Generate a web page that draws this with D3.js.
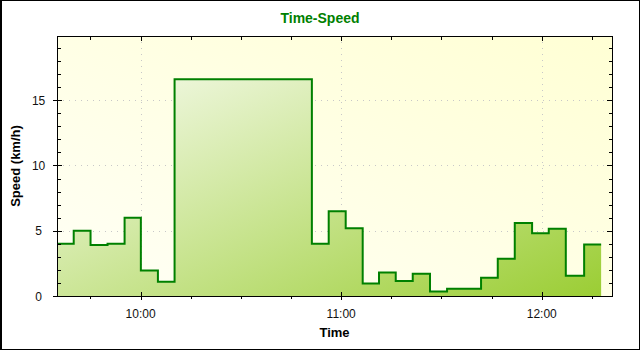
<!DOCTYPE html>
<html>
<head>
<meta charset="utf-8">
<script src="https://cdn.jsdelivr.net/npm/d3@7"></script>
<style>
  html, body { margin: 0; padding: 0; background: #fff; }
  svg { display: block; font-family: "Liberation Sans", Arial, sans-serif; }
</style>
</head>
<body>
<div id="chart"></div>
<script>
// readings: time of each sample and speed (km/h), last point closes the final step
const times = [
  '09:35:00', '09:40:00', '09:45:02', '09:50:07', '09:55:13', '10:00:05', '10:05:11', '10:10:10',
  '10:51:14', '10:56:16', '11:01:21', '11:06:26', '11:11:19', '11:16:19', '11:21:24', '11:26:34',
  '11:31:40', '11:41:50', '11:46:50', '11:51:55', '11:57:06', '12:02:05', '12:07:11', '12:12:40',
  '12:17:45'
];
const speeds = [
  4.0, 5.0, 3.9, 4.0, 6.0, 1.95, 1.1, 16.6,
  4.0, 6.5, 5.2, 0.95, 1.8, 1.15, 1.7, 0.35,
  0.55, 1.4, 2.85, 5.6, 4.8, 5.15, 1.55, 3.95,
  3.95
];
const xDomain = ['09:35:00', '12:21:00'];
const xTicks = ['10:00', '11:00', '12:00'];
const yTicks = [0, 5, 10, 15];

const parse = d3.timeParse('%H:%M:%S');
const data = times.map((t, i) => ({ t: parse(t), v: speeds[i] }));

const W = 640, H = 350;
const m = { top: 36, right: 28, bottom: 54, left: 57 };
const iw = W - m.left - m.right, ih = H - m.top - m.bottom;

const svg = d3.select('#chart').append('svg').attr('width', W).attr('height', H);

const x = d3.scaleTime().domain(xDomain.map(parse)).range([m.left, m.left + iw]);
const y = d3.scaleLinear().domain([0, d3.max(speeds) * 1.2]).range([m.top + ih, m.top]);

const defs = svg.append('defs');
const bg = defs.append('linearGradient').attr('id', 'bg').attr('x1', '0').attr('y1', '1').attr('x2', '1').attr('y2', '0');
bg.append('stop').attr('offset', '0%').attr('stop-color', '#fffff6');
bg.append('stop').attr('offset', '100%').attr('stop-color', '#ffffd4');
const fillGrad = defs.append('linearGradient').attr('id', 'fillGrad').attr('x1', '0').attr('y1', '0').attr('x2', '1').attr('y2', '1');
fillGrad.append('stop').attr('offset', '0%').attr('stop-color', '#ffffff');
fillGrad.append('stop').attr('offset', '100%').attr('stop-color', '#9acd32');

const area = d3.area().x(d => x(d.t)).y0(y(0)).y1(d => y(d.v)).curve(d3.curveStepAfter);
const line = d3.line().x(d => x(d.t)).y(d => y(d.v)).curve(d3.curveStepAfter);
defs.append('clipPath').attr('id', 'areaClip').append('path').datum(data).attr('d', area);

// outer frame
svg.append('rect').attr('x', 0.5).attr('y', 0.5).attr('width', W - 1).attr('height', H - 1)
  .attr('fill', '#fff').attr('stroke', '#000');
svg.append('line').attr('x1', 1.5).attr('x2', 1.5).attr('y1', 0).attr('y2', H).attr('stroke', '#000');

// plot background
svg.append('rect').attr('x', m.left).attr('y', m.top).attr('width', iw).attr('height', ih).attr('fill', 'url(#bg)');

// grid
const hourTicks = xTicks.map(t => parse(t + ':00'));
svg.append('g').selectAll('line').data(hourTicks).join('line')
  .attr('x1', d => Math.round(x(d)) + 0.5).attr('x2', d => Math.round(x(d)) + 0.5)
  .attr('y1', m.top).attr('y2', m.top + ih)
  .attr('stroke', '#c8c8c8').attr('stroke-dasharray', '1,5');
svg.append('g').selectAll('line').data(yTicks.slice(1)).join('line')
  .attr('x1', m.left).attr('x2', m.left + iw)
  .attr('y1', d => Math.round(y(d)) + 0.5).attr('y2', d => Math.round(y(d)) + 0.5)
  .attr('stroke', '#c8c8c8').attr('stroke-dasharray', '1,5');

// area + line
svg.append('rect').attr('x', m.left).attr('y', m.top).attr('width', iw).attr('height', ih)
  .attr('fill', 'url(#fillGrad)').attr('clip-path', 'url(#areaClip)');
svg.append('path').datum(data).attr('d', line)
  .attr('fill', 'none').attr('stroke', '#008000').attr('stroke-width', 2);

// axes frame
svg.append('rect').attr('x', m.left + 0.5).attr('y', m.top + 0.5).attr('width', iw).attr('height', ih)
  .attr('fill', 'none').attr('stroke', '#000');

// ticks
const minorX = d3.timeMinute.every(15).range(x.domain()[0], x.domain()[1]);
const minorY = d3.range(0, y.domain()[1], 1);
const tk = svg.append('g').attr('stroke', '#000').attr('shape-rendering', 'crispEdges');
minorX.forEach(d => {
  const px = Math.round(x(d)) + 0.5;
  const major = d.getMinutes() === 0;
  tk.append('line').attr('x1', px).attr('x2', px).attr('y1', m.top + ih - (major ? 4 : 0)).attr('y2', m.top + ih + (major ? 4 : 3));
  tk.append('line').attr('x1', px).attr('x2', px).attr('y1', m.top).attr('y2', m.top + (major ? 5 : 4));
});
minorY.forEach(d => {
  const py = Math.round(y(d)) + 0.5;
  const major = d % 5 === 0;
  tk.append('line').attr('x1', m.left - (major ? 4 : 0)).attr('x2', m.left + (major ? 5 : 4)).attr('y1', py).attr('y2', py);
  tk.append('line').attr('x1', m.left + iw - (major ? 5 : 3)).attr('x2', m.left + iw).attr('y1', py).attr('y2', py);
});

// tick labels
svg.append('g').selectAll('text').data(xTicks).join('text')
  .attr('x', d => x(parse(d + ':00'))).attr('y', m.top + ih + 22)
  .attr('text-anchor', 'middle').attr('font-size', 12).attr('fill', '#111').text(d => d);
svg.append('g').selectAll('text').data(yTicks).join('text')
  .attr('x', 38.6).attr('y', d => y(d) + 4.5)
  .attr('text-anchor', 'middle').attr('font-size', 12).attr('fill', '#111').text(d => d);

// titles
svg.append('text').attr('x', 320).attr('y', 23).attr('text-anchor', 'middle')
  .attr('font-size', 14).attr('font-weight', 'bold').attr('fill', '#008000').text('Time-Speed');
svg.append('text').attr('x', m.left + iw / 2).attr('y', 337).attr('text-anchor', 'middle')
  .attr('font-size', 13).attr('font-weight', 'bold').attr('fill', '#000').text('Time');
svg.append('text').attr('transform', `translate(20,${m.top + ih / 2}) rotate(-90)`).attr('text-anchor', 'middle')
  .attr('font-size', 13).attr('font-weight', 'bold').attr('fill', '#000').text('Speed (km/h)');
</script>
</body>
</html>
